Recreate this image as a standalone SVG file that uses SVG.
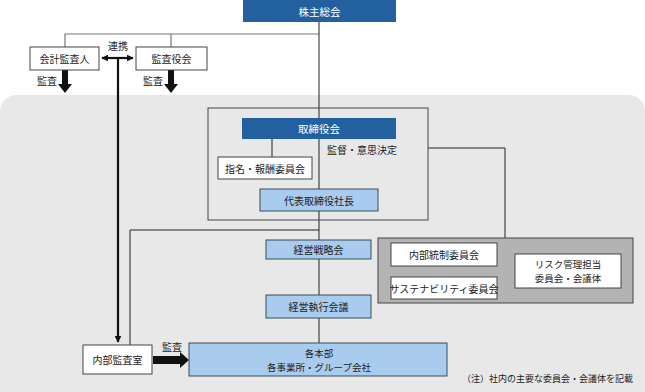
<svg xmlns="http://www.w3.org/2000/svg" width="645" height="392" viewBox="0 0 645 392">
<defs>
<style>
text{font-family:"Noto Sans CJK JP","Noto Sans",sans-serif;font-size:10px;fill:#222;text-anchor:middle;dominant-baseline:central}
.w{fill:#fff;font-size:10.5px}
.s{font-size:9.5px}
.dark{fill:#23609f}
.lb{fill:#a9cbee;stroke:#3a4a5a;stroke-width:1}
.wb{fill:#fff;stroke:#444;stroke-width:1}
.ln{fill:none;stroke:#222;stroke-width:1}
.gl{fill:none;stroke:#777;stroke-width:1.2}
.thick{fill:#111}
</style>
<marker id="ah" viewBox="0 0 10 10" refX="9" refY="5" markerWidth="3" markerHeight="3" orient="auto-start-reverse">
<path d="M0,0 L10,5 L0,10 Z" fill="#111"/>
</marker>
</defs>
<rect x="0" y="95" width="645" height="310" rx="16" fill="#e8e8e8"/>
<g id="connectors">
<path class="gl" d="M65,47 V34 H319 M171,34 V47"/>
<path class="ln" d="M319,22 V343"/>
<path class="ln" d="M272,139 V157"/>
<path class="ln" d="M428,148 H505 V238"/>
<path class="ln" d="M319,230 H130 V345"/>
<path class="ln" d="M497,254 H507 V288 H497 M507,271 H515"/>
<line x1="102" y1="58" x2="133" y2="58" stroke="#111" stroke-width="2.2" marker-start="url(#ah)" marker-end="url(#ah)"/>
<line x1="118" y1="58" x2="118" y2="342" stroke="#111" stroke-width="2.2" marker-end="url(#ah)"/>
<polygon class="thick" points="62,70 68,70 68,84 72,84 65,93 58,84 62,84"/>
<polygon class="thick" points="168,70 174,70 174,84 178,84 171,93 164,84 168,84"/>
<polygon class="thick" points="153,356 180,356 180,352 189,360 180,368 180,364 153,364"/>
</g>
<text x="118" y="45">連携</text>
<text x="47" y="80">監査</text>
<text x="153" y="80">監査</text>
<text x="172" y="346">監査</text>
<g id="shareholders"><rect class="dark" x="243" y="0" width="153" height="22"/><text class="w" x="319.5" y="11">株主総会</text></g>
<g id="auditor"><rect class="wb" x="30" y="47" width="69" height="23"/><text x="64.5" y="58.5">会計監査人</text></g>
<g id="audit-board"><rect class="wb" x="136" y="47" width="71" height="23"/><text x="171.5" y="58.5">監査役会</text></g>
<g id="board-frame"><rect x="208" y="108" width="220" height="112" fill="none" stroke="#444" stroke-width="1"/></g>
<g id="board"><rect class="dark" x="242" y="118" width="154" height="21"/><text class="w" x="319" y="128.5">取締役会</text></g>
<text x="362" y="149">監督・意思決定</text>
<g id="nomination"><rect class="wb" x="218" y="157" width="94" height="22"/><text x="265" y="168">指名・報酬委員会</text></g>
<g id="president"><rect class="lb" x="260" y="189" width="118" height="22"/><text x="319" y="200">代表取締役社長</text></g>
<g id="strategy"><rect class="lb" x="266" y="240" width="105" height="19"/><text x="318.5" y="249.5">経営戦略会</text></g>
<g id="exec"><rect class="lb" x="266" y="295" width="105" height="23"/><text x="318.5" y="306.5">経営執行会議</text></g>
<g id="risk-group"><rect x="378" y="238" width="255" height="65" fill="#b3b3b3" stroke="#444" stroke-width="1"/></g>
<g id="internal-control"><rect class="wb" x="391" y="243" width="106" height="23"/><text x="444" y="254.5">内部統制委員会</text></g>
<g id="sustainability"><rect class="wb" x="391" y="277" width="106" height="22"/><text x="444" y="288">サステナビリティ委員会</text></g>
<g id="risk"><rect class="wb" x="515" y="254" width="106" height="34"/><text class="s" x="568" y="263.5">リスク管理担当</text><text class="s" x="568" y="277.5">委員会・会議体</text></g>
<g id="internal-audit"><rect class="wb" x="83" y="345" width="69" height="29"/><text x="117.5" y="359.5">内部監査室</text></g>
<g id="divisions"><rect class="lb" x="189" y="343" width="258" height="33"/><text class="s" x="319" y="352.5">各本部</text><text class="s" x="319" y="366.5">各事業所・グループ会社</text></g>
<text x="633" y="378" style="text-anchor:end;font-size:9px">（注）社内の主要な委員会・会議体を記載</text>
</svg>
